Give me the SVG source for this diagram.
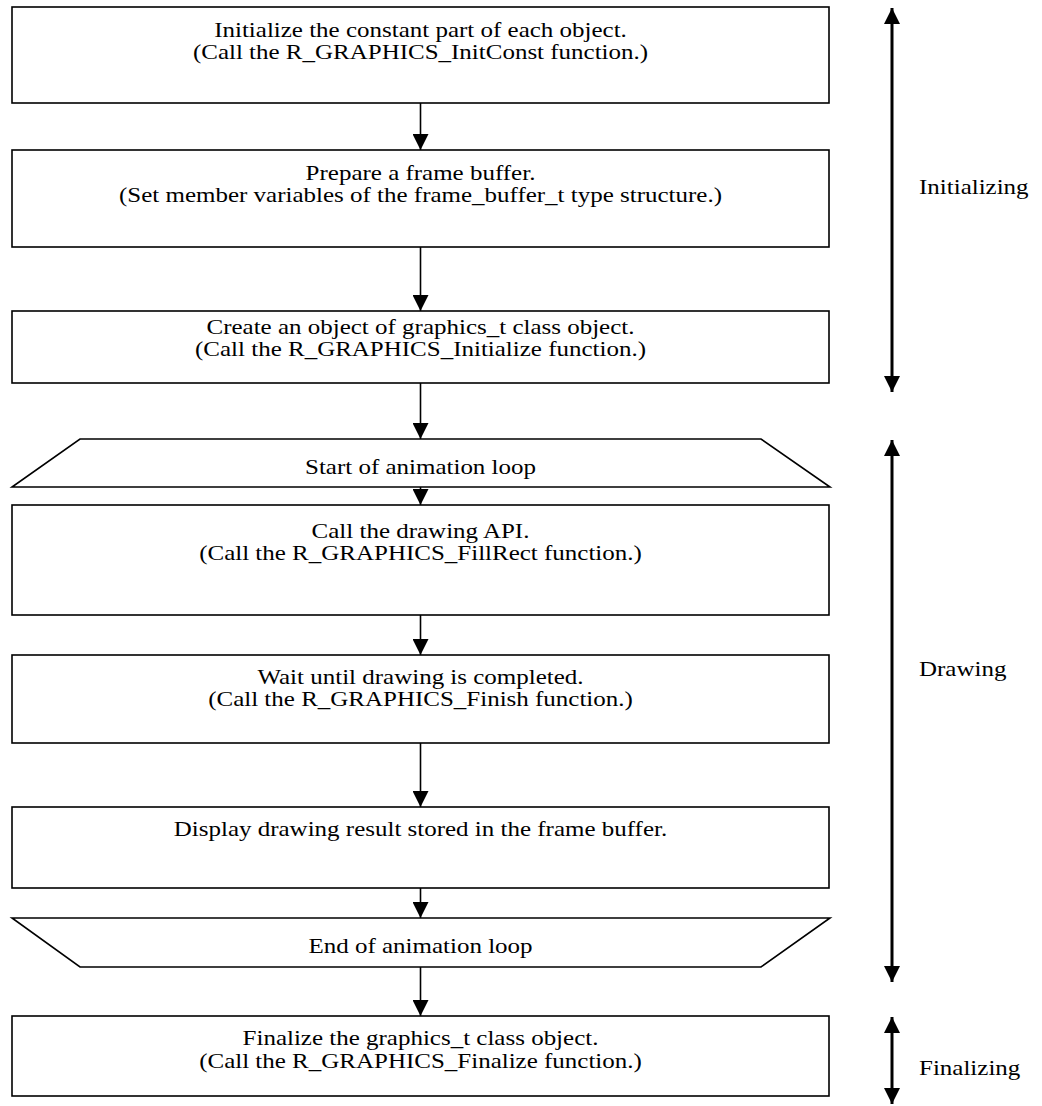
<svg xmlns="http://www.w3.org/2000/svg" width="1042" height="1106" viewBox="0 0 1042 1106">
  <style>
    .box { fill: #fff; stroke: #000; stroke-width: 1.6; }
    .txt { font-family: "Liberation Serif", "Times New Roman", serif; font-size: 22px; fill: #000; }
    .mid { text-anchor: middle; }
    .flow { stroke: #000; stroke-width: 1.6; fill: none; marker-end: url(#head); }
    .phase { stroke: #000; stroke-width: 3; fill: none; marker-start: url(#headStart); marker-end: url(#head); }
  </style>
  <defs>
    <marker id="head" markerUnits="userSpaceOnUse" markerWidth="16" markerHeight="16" viewBox="0 0 16 16" refX="16" refY="8" orient="auto">
      <path d="M0,0 L16,8 L0,16 Z" fill="#000"/>
    </marker>
    <marker id="headStart" markerUnits="userSpaceOnUse" markerWidth="16" markerHeight="16" viewBox="0 0 16 16" refX="16" refY="8" orient="auto-start-reverse">
      <path d="M0,0 L16,8 L0,16 Z" fill="#000"/>
    </marker>
  </defs>

  <rect width="1042" height="1106" fill="#fff"/>

  <!-- flow connectors -->
  <g id="connectors">
    <line class="flow" x1="420.5" y1="103" x2="420.5" y2="150"/>
    <line class="flow" x1="420.5" y1="247" x2="420.5" y2="311"/>
    <line class="flow" x1="420.5" y1="383" x2="420.5" y2="439"/>
    <line class="flow" x1="420.5" y1="487" x2="420.5" y2="505"/>
    <line class="flow" x1="420.5" y1="615" x2="420.5" y2="655"/>
    <line class="flow" x1="420.5" y1="743" x2="420.5" y2="807"/>
    <line class="flow" x1="420.5" y1="888" x2="420.5" y2="918"/>
    <line class="flow" x1="420.5" y1="967" x2="420.5" y2="1016"/>
  </g>

  <!-- flow steps; text is set a little wide (scale 1.136 on x) -->
  <g id="init-const">
    <rect class="box" x="12" y="7" width="817" height="96"/>
    <g transform="translate(420.5 0) scale(1.136 1)">
      <text class="txt mid" x="0" y="37">Initialize the constant part of each object.</text>
      <text class="txt mid" x="0" y="59">(Call the R_GRAPHICS_InitConst function.)</text>
    </g>
  </g>
  <g id="frame-buffer">
    <rect class="box" x="12" y="150" width="817" height="97"/>
    <g transform="translate(420.5 0) scale(1.136 1)">
      <text class="txt mid" x="0" y="180">Prepare a frame buffer.</text>
      <text class="txt mid" x="0" y="202">(Set member variables of the frame_buffer_t type structure.)</text>
    </g>
  </g>
  <g id="create-object">
    <rect class="box" x="12" y="311" width="817" height="72"/>
    <g transform="translate(420.5 0) scale(1.136 1)">
      <text class="txt mid" x="0" y="334">Create an object of graphics_t class object.</text>
      <text class="txt mid" x="0" y="356">(Call the R_GRAPHICS_Initialize function.)</text>
    </g>
  </g>
  <g id="loop-start">
    <polygon class="box" points="80,439 761,439 830,487 12,487"/>
    <g transform="translate(420.5 0) scale(1.136 1)">
      <text class="txt mid" x="0" y="474">Start of animation loop</text>
    </g>
  </g>
  <g id="draw-api">
    <rect class="box" x="12" y="505" width="817" height="110"/>
    <g transform="translate(420.5 0) scale(1.136 1)">
      <text class="txt mid" x="0" y="538">Call the drawing API.</text>
      <text class="txt mid" x="0" y="560">(Call the R_GRAPHICS_FillRect function.)</text>
    </g>
  </g>
  <g id="wait-finish">
    <rect class="box" x="12" y="655" width="817" height="88"/>
    <g transform="translate(420.5 0) scale(1.136 1)">
      <text class="txt mid" x="0" y="684">Wait until drawing is completed.</text>
      <text class="txt mid" x="0" y="706">(Call the R_GRAPHICS_Finish function.)</text>
    </g>
  </g>
  <g id="display">
    <rect class="box" x="12" y="807" width="817" height="81"/>
    <g transform="translate(420.5 0) scale(1.136 1)">
      <text class="txt mid" x="0" y="836">Display drawing result stored in the frame buffer.</text>
    </g>
  </g>
  <g id="loop-end">
    <polygon class="box" points="12,918 830,918 761,967 80,967"/>
    <g transform="translate(420.5 0) scale(1.136 1)">
      <text class="txt mid" x="0" y="953">End of animation loop</text>
    </g>
  </g>
  <g id="finalize">
    <rect class="box" x="12" y="1016" width="817" height="80"/>
    <g transform="translate(420.5 0) scale(1.136 1)">
      <text class="txt mid" x="0" y="1045">Finalize the graphics_t class object.</text>
      <text class="txt mid" x="0" y="1068">(Call the R_GRAPHICS_Finalize function.)</text>
    </g>
  </g>

  <!-- phase spans -->
  <g id="phase-initializing">
    <line class="phase" x1="892" y1="8" x2="892" y2="392"/>
    <text class="txt" transform="translate(919 194) scale(1.136 1)">Initializing</text>
  </g>
  <g id="phase-drawing">
    <line class="phase" x1="892" y1="440" x2="892" y2="982"/>
    <text class="txt" transform="translate(919 676) scale(1.136 1)">Drawing</text>
  </g>
  <g id="phase-finalizing">
    <line class="phase" x1="892" y1="1017" x2="892" y2="1104"/>
    <text class="txt" transform="translate(919 1075) scale(1.136 1)">Finalizing</text>
  </g>
</svg>
